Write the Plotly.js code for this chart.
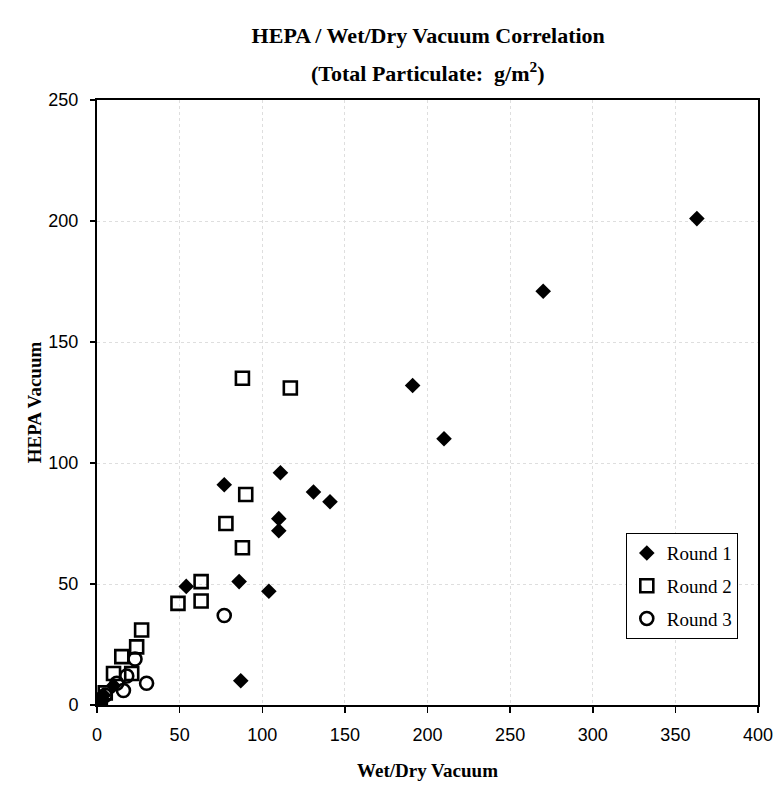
<!DOCTYPE html>
<html>
<head>
<meta charset="utf-8">
<script src="https://cdn.plot.ly/plotly-3.0.1.min.js"></script>
<style>html,body{margin:0;padding:0;background:#fff;}#chart{width:780px;height:791px;}</style>
</head>
<body>
<div id="chart"></div>
<script>
// Round 1 (filled diamonds)
const round1X = [363, 270, 191, 210, 111, 77, 131, 141, 110, 110, 86, 54, 104, 87, 10, 4, 1];
const round1Y = [201, 171, 132, 110, 96, 91, 88, 84, 77, 72, 51, 49, 47, 10, 8, 4, 1];
// Round 2 (open squares)
const round2X = [88, 117, 90, 78, 88, 63, 49, 63, 27, 24, 15, 10, 21, 5, 2];
const round2Y = [135, 131, 87, 75, 65, 51, 42, 43, 31, 24, 20, 13, 13, 5, 2];
// Round 3 (open circles)
const round3X = [77, 23, 18, 30, 12, 16, 5, 2, 1];
const round3Y = [37, 19, 12, 9, 9, 6, 4, 2, 1];

const seriesNames = ["Round 1", "Round 2", "Round 3"];
const xTicks = [0, 50, 100, 150, 200, 250, 300, 350, 400];
const yTicks = [0, 50, 100, 150, 200, 250];

const serif = "Liberation Serif, Times New Roman, serif";
const sans = "Liberation Sans, Arial, sans-serif";

const traces = [
  {x: round1X, y: round1Y, name: seriesNames[0], legendgroup: "g1", type: "scatter", mode: "markers",
   marker: {symbol: "diamond", size: 12, color: "#000", line: {width: 0}}},
  {x: round2X, y: round2Y, name: seriesNames[1], legendgroup: "g2", type: "scatter", mode: "markers",
   marker: {symbol: "square-open", size: 13, color: "#000", line: {width: 2.6}}},
  {x: round3X, y: round3Y, name: seriesNames[2], legendgroup: "g3", type: "scatter", mode: "markers",
   marker: {symbol: "circle-open", size: 13, color: "#000", line: {width: 2.6}}}
];

const axisCommon = {
  showline: true, linecolor: "#000", linewidth: 2, mirror: true,
  ticks: "outside", tickcolor: "#000", tickwidth: 1.5,
  showgrid: true, gridcolor: "#dedede", griddash: "dot", gridwidth: 1,
  zeroline: false,
  tickfont: {family: sans, size: 18, color: "#000"}
};

const layout = {
  width: 780, height: 791,
  margin: {l: 97, r: 22, t: 100, b: 86},
  paper_bgcolor: "#fff", plot_bgcolor: "#fff",
  showlegend: true,
  title: {text: "HEPA / Wet/Dry Vacuum Correlation", x: 0.549, xanchor: "center", y: 0.955, yanchor: "middle",
          font: {family: serif, size: 22, color: "#000", weight: "bold"}},
  annotations: [{text: "(Total Particulate:  g/m<sup>2</sup>)", xref: "paper", yref: "paper",
                 x: 0.5, xanchor: "center", y: 1.046, yanchor: "middle", showarrow: false,
                 font: {family: serif, size: 22, color: "#000", weight: "bold"}}],
  xaxis: Object.assign({}, axisCommon, {
    range: [0, 400], tickvals: xTicks, ticklen: 6, ticklabelstandoff: 6,
    title: {text: "Wet/Dry Vacuum", standoff: 20, font: {family: serif, size: 19, color: "#000", weight: "bold"}}
  }),
  yaxis: Object.assign({}, axisCommon, {
    range: [0, 250], tickvals: yTicks, ticklen: 5, ticklabelstandoff: 8,
    title: {text: "HEPA Vacuum", standoff: 2, font: {family: serif, size: 19, color: "#000", weight: "bold"}}
  }),
  legend: {x: 0.80, xanchor: "left", y: 0.284, yanchor: "top",
           bgcolor: "#fff", bordercolor: "#000", borderwidth: 1,
           traceorder: "grouped", tracegroupgap: 5, itemwidth: 30,
           font: {family: serif, size: 19, color: "#000"}}
};

Plotly.newPlot("chart", traces, layout, {displayModeBar: false, staticPlot: true});
</script>
</body>
</html>
